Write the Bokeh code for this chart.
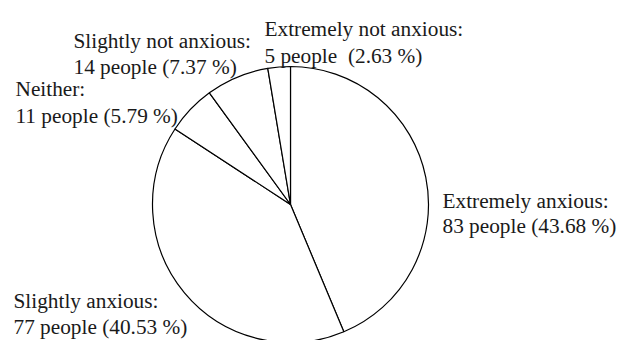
import numpy as np
from bokeh.plotting import figure
from bokeh.models import Range1d, ColumnDataSource
from bokeh.core.properties import value
from bokeh.embed import file_html
from bokeh.resources import INLINE

# Survey responses, drawn clockwise from 12 o'clock
categories = ["Extremely anxious", "Slightly anxious", "Neither",
              "Slightly not anxious", "Extremely not anxious"]
counts = [83, 77, 11, 14, 5]
percents = [43.68, 40.53, 5.79, 7.37, 2.63]

W, H = 630, 340
p = figure(width=W, height=H, output_backend="svg", toolbar_location=None,
           x_range=Range1d(0, W), y_range=Range1d(0, H),
           min_border=0, outline_line_color=None)
p.axis.visible = False
p.grid.visible = False
p.background_fill_color = "white"
p.border_fill_color = "white"

# pie geometry (screen-like units, y measured upward)
cx, cy, r = 290, H - 204, 138
total = sum(counts)
cum = np.concatenate([[0], np.cumsum(counts)]) / total
start = np.pi / 2 - cum[:-1] * 2 * np.pi
end = np.pi / 2 - cum[1:] * 2 * np.pi

src = ColumnDataSource(dict(start=start, end=end, cat=categories))
p.wedge(x=cx, y=cy, radius=r, start_angle="start", end_angle="end",
        direction="clock", source=src, fill_color="white",
        line_color="black", line_width=1.2)

# label anchors: left x, baseline of first line, line gap
anchors = {
    "Extremely anxious": (442, 200.5, 25),
    "Slightly anxious": (13, 300, 26),
    "Neither": (15, 88.5, 26.5),
    "Slightly not anxious": (73, 40.5, 26),
    "Extremely not anxious": (264, 28.5, 26.5),
}

xs, ys, texts = [], [], []
for cat, n, pct in zip(categories, counts, percents):
    ax, by, gap = anchors[cat]
    sep = " \u00a0" if cat == "Extremely not anxious" else " "
    xs += [ax, ax]
    ys += [H - by, H - by - gap]
    texts += [f"{cat}:", f"{n} people{sep}({pct:.2f} %)"]

p.text(x=xs, y=ys, text=texts, text_font=value("Liberation Serif"),
       text_font_size="21.3px", text_color="#1a1a1a",
       text_baseline="alphabetic", text_align="left")

open("out.html", "w").write(file_html(p, INLINE))
